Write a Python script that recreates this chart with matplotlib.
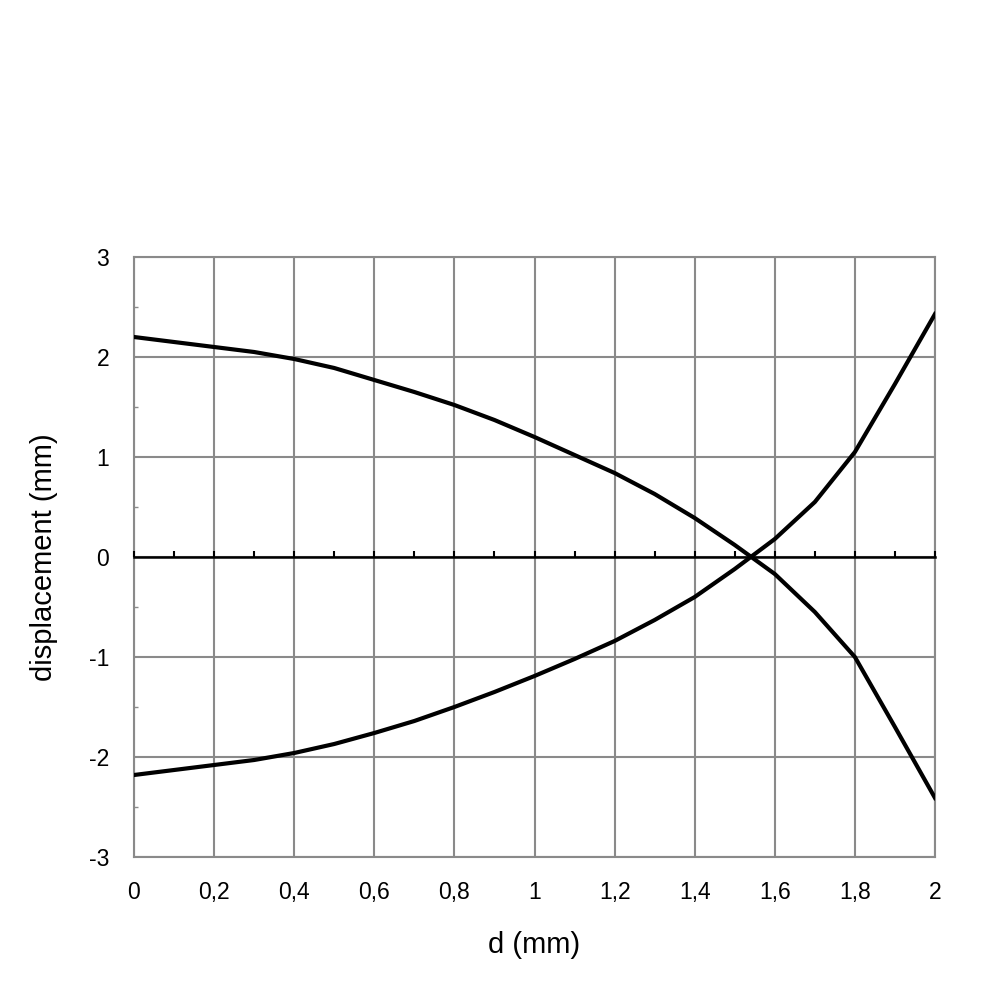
import matplotlib.pyplot as plt
import numpy as np

# Data
d = [0.0, 0.1, 0.2, 0.3, 0.4, 0.5, 0.6, 0.7, 0.8, 0.9, 1.0,
     1.1, 1.2, 1.3, 1.4, 1.5, 1.6, 1.7, 1.8, 1.9, 2.0]
disp_a = [2.20, 2.15, 2.10, 2.05, 1.98, 1.89, 1.77, 1.65, 1.52, 1.37, 1.20,
          1.02, 0.84, 0.63, 0.39, 0.12, -0.17, -0.55, -1.00, -1.70, -2.41]
disp_b = [-2.18, -2.13, -2.08, -2.03, -1.96, -1.87, -1.76, -1.64, -1.50, -1.35, -1.19,
          -1.02, -0.84, -0.63, -0.40, -0.12, 0.18, 0.55, 1.05, 1.73, 2.43]

xticks = [0, 0.2, 0.4, 0.6, 0.8, 1.0, 1.2, 1.4, 1.6, 1.8, 2.0]
xtick_labels = ["0", "0,2", "0,4", "0,6", "0,8", "1", "1,2", "1,4", "1,6", "1,8", "2"]
yticks = [-3, -2, -1, 0, 1, 2, 3]

plt.rcParams['font.family'] = ['Liberation Sans', 'DejaVu Sans']
plt.rcParams['axes.unicode_minus'] = False

grid_col = '#8a8a8a'
rect = [0.134, 0.143, 0.801, 0.600]

fig = plt.figure(figsize=(10, 10), dpi=100)
ax = fig.add_axes(rect)

ax.plot(d, disp_a, color='black', lw=3.0, zorder=5, solid_joinstyle='round')
ax.plot(d, disp_b, color='black', lw=3.0, zorder=5, solid_joinstyle='round')

ax.set_xlim(0, 2)
ax.set_ylim(-3, 3)
ax.set_xticks(xticks)
ax.set_xticklabels(xtick_labels, fontsize=16.5)
ax.set_yticks(yticks)
ax.set_yticklabels([str(v) for v in yticks], fontsize=16.5)
ax.set_yticks(np.arange(-2.5, 3, 1.0), minor=True)
ax.tick_params(axis='both', which='major', length=0)
ax.tick_params(axis='x', which='major', pad=17)
ax.tick_params(axis='y', which='major', pad=18)
ax.tick_params(axis='y', which='minor', direction='in', length=3, width=1, color=grid_col)
ax.grid(True, which='major', color=grid_col, lw=1.5)
for s in ax.spines.values():
    s.set_color(grid_col)
    s.set_linewidth(1.5)

ax.set_xlabel('d (mm)', fontsize=21, labelpad=20)
ax.set_ylabel('displacement (mm)', fontsize=21, labelpad=22)

# zero line with 0.1 ticks, on an overlay axes
ax0 = fig.add_axes(rect)
ax0.set_xlim(0, 2)
ax0.set_ylim(-3, 3)
ax0.patch.set_visible(False)
for k in ['top', 'left', 'right']:
    ax0.spines[k].set_visible(False)
ax0.spines['bottom'].set_position(('data', 0))
ax0.spines['bottom'].set_color('black')
ax0.spines['bottom'].set_linewidth(1.8)
ax0.xaxis.set_major_locator(plt.MultipleLocator(0.1))
ax0.tick_params(axis='x', direction='in', length=4, width=1.5, color='black', labelbottom=False)
ax0.tick_params(axis='y', left=False, labelleft=False)

fig.savefig('out.png', dpi=100)
